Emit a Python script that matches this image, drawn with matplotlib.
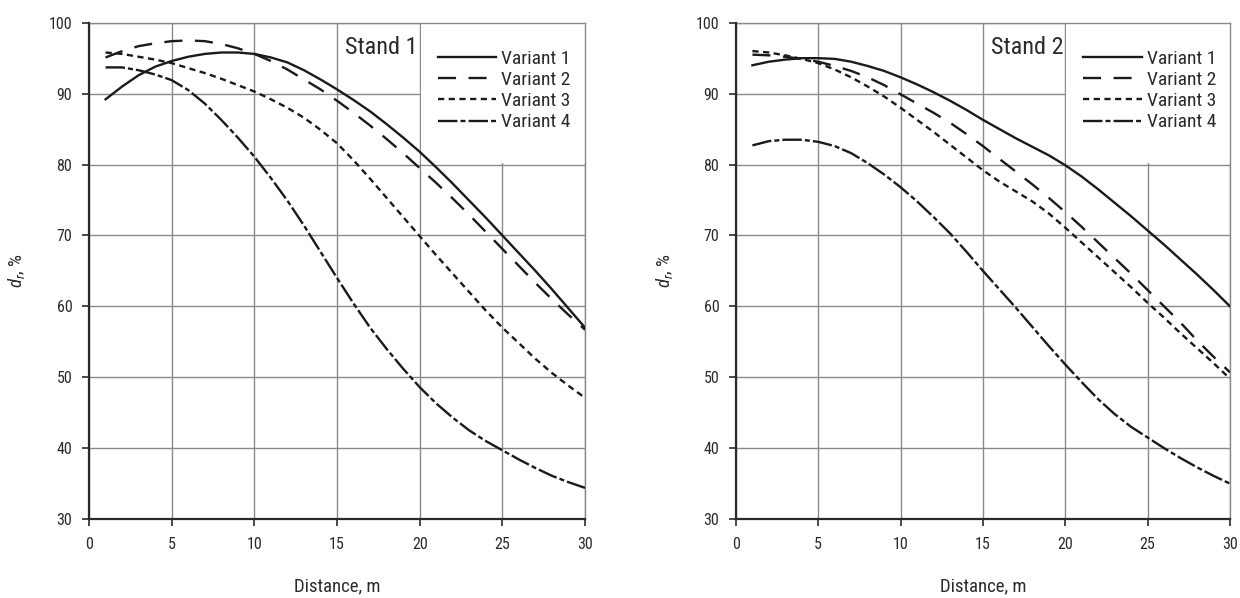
import matplotlib
matplotlib.use("Agg")
import matplotlib.pyplot as plt
from matplotlib import font_manager
from matplotlib.patches import Rectangle

# pick a narrow sans face if one is available
available = {f.name for f in font_manager.fontManager.ttflist}
narrow = ['Liberation Sans Narrow', 'Arial Narrow', 'Roboto Condensed',
          'Archivo Narrow', 'PT Sans Narrow', 'Liberation Sans']
font = next(n for n in narrow + ['DejaVu Sans'] if n in available)

plt.rcParams['font.family'] = [font, 'DejaVu Sans']
plt.rcParams['mathtext.fontset'] = 'custom'
plt.rcParams['mathtext.rm'] = font
plt.rcParams['mathtext.it'] = font + ':italic'
plt.rcParams['lines.scale_dashes'] = False

distance = list(range(1, 31))

# Stand 1
s1_v1 = [89.2, 91.0, 92.6, 93.8, 94.6, 95.2, 95.6, 95.8, 95.8, 95.6,
         95.1, 94.4, 93.3, 92.0, 90.6, 89.1, 87.5, 85.7, 83.8, 81.8,
         79.6, 77.3, 74.9, 72.5, 70.0, 67.5, 65.0, 62.4, 59.7, 57.0]
s1_v2 = [95.1, 96.0, 96.7, 97.1, 97.4, 97.5, 97.4, 97.0, 96.4, 95.6,
         94.6, 93.4, 92.0, 90.6, 89.0, 87.3, 85.5, 83.6, 81.6, 79.5,
         77.4, 75.2, 72.9, 70.5, 68.1, 65.7, 63.3, 61.0, 58.8, 56.7]
s1_v3 = [95.8, 95.6, 95.2, 94.8, 94.3, 93.6, 92.9, 92.1, 91.2, 90.3,
         89.2, 88.0, 86.6, 84.9, 83.0, 80.6, 78.0, 75.3, 72.6, 69.9,
         67.2, 64.6, 62.0, 59.4, 57.0, 54.8, 52.6, 50.6, 48.8, 47.1]
s1_v4 = [93.7, 93.7, 93.3, 92.7, 91.9, 90.5, 88.6, 86.3, 83.8, 81.1,
         78.1, 74.9, 71.4, 67.7, 64.0, 60.4, 57.0, 54.0, 51.2, 48.6,
         46.3, 44.3, 42.5, 41.0, 39.7, 38.4, 37.2, 36.1, 35.2, 34.4]

# Stand 2
s2_v1 = [94.0, 94.5, 94.8, 95.0, 95.0, 94.9, 94.5, 93.9, 93.2, 92.3,
         91.3, 90.2, 89.0, 87.7, 86.3, 85.0, 83.7, 82.5, 81.3, 79.9,
         78.3, 76.5, 74.6, 72.7, 70.7, 68.7, 66.6, 64.5, 62.3, 60.0]
s2_v2 = [95.5, 95.4, 95.2, 94.9, 94.5, 93.9, 93.2, 92.3, 91.2, 89.9,
         88.6, 87.3, 85.9, 84.3, 82.6, 80.8, 79.0, 77.2, 75.3, 73.3,
         71.2, 69.0, 66.8, 64.6, 62.3, 60.0, 57.7, 55.2, 52.9, 50.7]
s2_v3 = [96.0, 95.8, 95.4, 94.9, 94.3, 93.4, 92.3, 91.0, 89.6, 88.0,
         86.3, 84.6, 82.8, 81.0, 79.2, 77.6, 76.2, 74.8, 73.1, 71.1,
         69.0, 66.9, 64.8, 62.7, 60.5, 58.4, 56.2, 54.1, 52.0, 49.8]
s2_v4 = [82.7, 83.3, 83.5, 83.5, 83.2, 82.6, 81.6, 80.2, 78.6, 76.8,
         74.8, 72.6, 70.3, 67.7, 65.0, 62.4, 59.8, 57.1, 54.4, 51.8,
         49.3, 46.9, 44.8, 43.0, 41.5, 40.0, 38.6, 37.3, 36.1, 35.0]

labels = ['Variant 1', 'Variant 2', 'Variant 3', 'Variant 4']
styles = ['-', (0, (13, 9)), (0, (4.5, 3.2)), (0, (14, 2.2, 3.6, 2.2))]

stands = [('Stand 1', [s1_v1, s1_v2, s1_v3, s1_v4]),
          ('Stand 2', [s2_v1, s2_v2, s2_v3, s2_v4])]

fig = plt.figure(figsize=(12.4, 5.98), dpi=100)
positions = [[0.0718, 0.132, 0.400, 0.830], [0.5935, 0.132, 0.3984, 0.830]]
ylabel_x = [-0.125, -0.123]

grid_col = '#8a8a8a'
line_col = '#1a1a1a'
text_col = '#2b2b2b'

for pos, yx, (title, series) in zip(positions, ylabel_x, stands):
    ax = fig.add_axes(pos)
    ax.set_xlim(0, 30)
    ax.set_ylim(30, 100)
    ax.set_xticks(range(0, 31, 5))
    ax.set_yticks(range(30, 101, 10))
    ax.grid(True, color=grid_col, linewidth=1.0)
    ax.set_axisbelow(True)

    # blank area behind the legend
    ax.add_patch(Rectangle((20.06, 80.15), 9.94, 19.85, facecolor='white',
                           edgecolor='none', zorder=1))

    for ys, ls, lab in zip(series, styles, labels):
        ax.plot(distance, ys, linestyle=ls, color=line_col, linewidth=1.7,
                label=lab, zorder=3)

    for side in ['top', 'right']:
        ax.spines[side].set_color(grid_col)
        ax.spines[side].set_linewidth(1.0)
    for side in ['left', 'bottom']:
        ax.spines[side].set_color('#2a2a2a')
        ax.spines[side].set_linewidth(1.6)
        ax.spines[side].set_zorder(4)

    ax.tick_params(axis='both', direction='out', length=5, width=1.2,
                   color='#2a2a2a', labelsize=11.5, labelcolor=text_col)
    ax.tick_params(axis='y', pad=7)
    ax.tick_params(axis='x', pad=8)

    ax.text(15.5, 96.5, title, fontsize=17.5, color=text_col, va='center')
    ax.legend(loc='upper left', bbox_to_anchor=(0.703, 0.946),
              bbox_transform=ax.transAxes, frameon=False, borderpad=0,
              borderaxespad=0, fontsize=14, handlelength=3.0,
              handletextpad=0.26, labelspacing=0.17, labelcolor=text_col)

    ax.set_xlabel('Distance, m', fontsize=13.5, color=text_col)
    ax.xaxis.set_label_coords(0.5, -0.118)
    ax.set_ylabel(r'$d_r$, %', fontsize=13.5, color=text_col)
    ax.yaxis.set_label_coords(yx, 0.5)

fig.savefig('out.png', dpi=100)
